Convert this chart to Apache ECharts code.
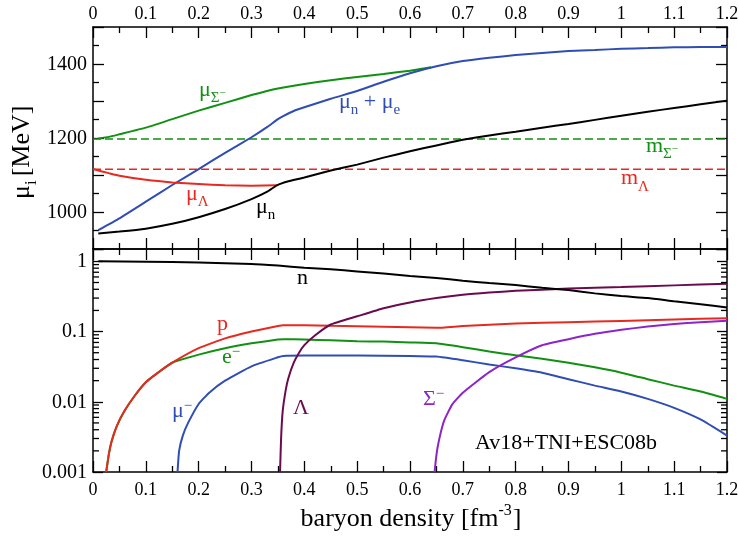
<!DOCTYPE html>
<html><head><meta charset="utf-8">
<script src="https://cdn.jsdelivr.net/npm/echarts@6/dist/echarts.min.js"></script>
<style>html,body{margin:0;padding:0;background:#fff}#c{width:739px;height:536px}</style>
</head><body><div id="c"></div>
<script>
// ---------- tick labels / axis ranges ----------
const xTicks = [0,0.1,0.2,0.3,0.4,0.5,0.6,0.7,0.8,0.9,1,1.1,1.2];
const muTickLabels = [1000,1200,1400];
const yLogTickLabels = [0.001,0.01,0.1,1];
const logMinorTicks = [0.002,0.003,0.004,0.005,0.006,0.007,0.008,0.009,
  0.02,0.03,0.04,0.05,0.06,0.07,0.08,0.09,0.2,0.3,0.4,0.5,0.6,0.7,0.8,0.9];

// ---------- top panel: chemical potentials [MeV] ----------
const mSigma = 1197.4;
const mLambda = 1115.7;

const muSigmaX = [0.01,0.03,0.05,0.1,0.15,0.2,0.25,0.3,0.35,0.4,0.45,0.5,0.55,0.6,0.64];
const muSigmaY = [1199,1203,1210,1228,1251,1274,1295,1316,1334,1346,1356,1365,1373,1382,1391];

const muNEX = [0.01,0.05,0.1,0.15,0.2,0.25,0.3,0.33,0.35,0.36,0.38,0.4,0.45,0.5,0.55,0.6,0.65,0.7,0.75,0.8,0.85,0.9,0.95,1.0,1.05,1.1,1.15,1.2];
const muNEY = [951,983,1028,1073,1116,1160,1202,1230,1251,1259,1273,1283,1306,1327,1352,1375,1394,1408,1417,1424,1430,1435,1438,1441,1443,1445,1446,1446];

const muLambdaX = [0,0.03,0.05,0.1,0.15,0.2,0.25,0.3,0.348];
const muLambdaY = [1116,1105,1098,1087,1080,1076,1072,1071,1072];

const muNX = [0.01,0.05,0.1,0.15,0.2,0.25,0.3,0.33,0.348,0.37,0.4,0.45,0.5,0.55,0.6,0.65,0.7,0.75,0.8,0.85,0.9,0.95,1.0,1.05,1.1,1.15,1.2];
const muNY = [942,947,955,968,986,1008,1035,1055,1072,1083,1093,1112,1128,1147,1164,1180,1195,1207,1217,1228,1238,1249,1260,1271,1281,1291,1301];

// ---------- bottom panel: particle fractions ----------
const nX = [0.01,0.1,0.2,0.3,0.35,0.4,0.45,0.5,0.55,0.6,0.65,0.7,0.75,0.8,0.85,0.9,0.95,1.0,1.05,1.1,1.15,1.2];
const nY = [1.0,0.99,0.96,0.92,0.87,0.81,0.77,0.72,0.67,0.62,0.58,0.53,0.49,0.46,0.42,0.39,0.35,0.32,0.30,0.27,0.245,0.22];

const pX = [0.025,0.03,0.035,0.045,0.06,0.08,0.1,0.12,0.15,0.2,0.25,0.3,0.35,0.36,0.4,0.45,0.5,0.55,0.6,0.65,0.7,0.8,0.9,1.0,1.1,1.2];
const pY = [0.001,0.0018,0.0027,0.0045,0.0075,0.0125,0.019,0.025,0.036,0.058,0.08,0.10,0.12,0.123,0.123,0.121,0.119,0.117,0.115,0.113,0.12,0.13,0.136,0.142,0.149,0.155];

const eX = [0.025,0.03,0.035,0.045,0.06,0.08,0.1,0.12,0.15,0.2,0.25,0.3,0.35,0.36,0.4,0.45,0.5,0.55,0.6,0.65,0.7,0.75,0.8,0.85,0.9,0.95,1.0,1.05,1.1,1.15,1.2];
const eY = [0.001,0.0018,0.0027,0.0045,0.0075,0.0125,0.019,0.025,0.036,0.047,0.058,0.068,0.077,0.078,0.077,0.075,0.073,0.072,0.07,0.068,0.06,0.052,0.046,0.041,0.036,0.031,0.026,0.021,0.017,0.014,0.011];

const muonX = [0.16,0.163,0.17,0.18,0.2,0.22,0.25,0.3,0.35,0.36,0.4,0.5,0.6,0.65,0.7,0.75,0.8,0.85,0.9,0.95,1.0,1.05,1.1,1.15,1.2];
const muonY = [0.001,0.002,0.0033,0.005,0.0093,0.0135,0.02,0.032,0.043,0.045,0.0455,0.0455,0.045,0.044,0.039,0.034,0.030,0.026,0.021,0.017,0.014,0.011,0.0082,0.0056,0.0033];

const lamX = [0.354,0.356,0.359,0.365,0.37,0.38,0.39,0.4,0.42,0.45,0.5,0.55,0.6,0.65,0.7,0.75,0.8,0.9,1.0,1.1,1.2];
const lamY = [0.001,0.003,0.0073,0.015,0.022,0.036,0.05,0.064,0.088,0.126,0.165,0.215,0.26,0.3,0.335,0.36,0.38,0.41,0.43,0.455,0.48];

const sigX = [0.6466,0.649,0.652,0.658,0.665,0.68,0.7,0.75,0.8,0.85,0.9,0.95,1.0,1.05,1.1,1.15,1.2];
const sigY = [0.001,0.0015,0.0022,0.0036,0.0055,0.0092,0.0135,0.0265,0.043,0.064,0.078,0.093,0.106,0.118,0.128,0.136,0.143];

// ---------- colours ----------
const C = {black:'#000000', red:'#e8291f', green:'#119011', blue:'#2f4db3', lam:'#6b0b4d', sig:'#8c24c9'};
const FONT_CSS = '"Liberation Serif", serif';

const zip = (xs, ys) => xs.map((x, i) => [x, ys[i]]);

function line(name, xs, ys, color, xi, yi, extra) {
  return Object.assign({
    type:'line', name, data: zip(xs, ys), xAxisIndex: xi, yAxisIndex: yi,
    showSymbol:false, symbol:'none', smooth:0.15,
    lineStyle:{color, width:2}, itemStyle:{color}, silent:true, animation:false, z:3
  }, extra || {});
}

const lineAx = {show:true, onZero:false, lineStyle:{color:'#000', width:1.5}};
function xAx(grid, pos) {
  return {
    type:'value', gridIndex:grid, position:pos, min:0, max:1.2, interval:0.1,
    axisLine: lineAx,
    axisTick:{show:true, inside:true, length:11, lineStyle:{color:'#000', width:1.3}},
    minorTick:{show:true, splitNumber:2, length:6, lineStyle:{color:'#000', width:1.3}},
    splitLine:{show:false}, minorSplitLine:{show:false},
    axisLabel:{show:false}
  };
}
function yMu(pos) {
  return {
    type:'value', gridIndex:0, position:pos, min:900, max:1500, interval:100,
    axisLine: lineAx,
    axisTick:{show:true, inside:true, length:11, lineStyle:{color:'#000', width:1.3}},
    minorTick:{show:true, splitNumber:2, length:6, lineStyle:{color:'#000', width:1.3}},
    splitLine:{show:false}, minorSplitLine:{show:false},
    axisLabel:{show:false}
  };
}
function yLog(pos) {
  return {
    type:'log', logBase:10, gridIndex:1, position:pos, min:0.001, max:1.5,
    axisLine: lineAx,
    axisTick:{show:true, inside:true, length:10, lineStyle:{color:'#000', width:1.3}},
    minorTick:{show:false},
    splitLine:{show:false}, minorSplitLine:{show:false},
    axisLabel:{show:false}
  };
}

// ---------- tick labels drawn as text through the axes' scales ----------
function txt(x, y, t, size, align, vAlign) {
  return {type:'text', x, y, style:{text:t, font: size + 'px ' + FONT_CSS, fill:'#000',
    align, verticalAlign:vAlign, textAlign:align, textVerticalAlign:vAlign}};
}
function labelSeries(xi, yi, values, place) {
  return {
    type:'custom', xAxisIndex:xi, yAxisIndex:yi, silent:true, clip:false, z:6,
    data: values.map(v => [v]),
    renderItem: (params, api) => place(api.value(0), api)
  };
}
const tickLabelSeries = [
  // top axis of upper panel
  labelSeries(1, 0, xTicks, (v, api) => { const p = api.coord([v, 1500]); return txt(p[0], p[1] - 7 - 0.305*18, String(v), 18, 'center', 'middle'); }),
  // bottom axis of lower panel
  labelSeries(2, 2, xTicks, (v, api) => { const p = api.coord([v, 0.001]); return txt(p[0], p[1] + 24 - 0.305*18, String(v), 18, 'center', 'middle'); }),
  // MeV axis
  labelSeries(0, 0, muTickLabels, (v, api) => { const p = api.coord([0, v]); return txt(p[0] - 6, p[1] + 0.5, String(v), 20, 'right', 'middle'); }),
  // Y_i axis
  labelSeries(2, 2, yLogTickLabels, (v, api) => { const p = api.coord([0, v]); return txt(p[0] - 6, p[1] + 0.5, String(v), 20, 'right', 'middle'); })
];

// ---------- text helpers for annotations ----------
const mctx = document.createElement('canvas').getContext('2d');
function tw(t, s) { mctx.font = s + 'px ' + FONT_CSS; return mctx.measureText(t).width; }
// parts: [text, size, baselineOffset, extraAdvance]
function rich(x, base, parts, color, rotation) {
  let cx = 0; const children = [];
  for (const p of parts) {
    const [t, s, dy] = p;
    children.push({type:'text', x:cx, y:dy - 0.305*s,
      style:{text:t, font: s + 'px ' + FONT_CSS, fill:color, align:'left', verticalAlign:'middle',
             textAlign:'left', textVerticalAlign:'middle'}});
    cx += tw(t, s) + (p[3] || 0);
  }
  return {type:'group', x, y:base, rotation: rotation || 0, children, silent:true, z:10};
}
function richWidth(parts) { return parts.reduce((a, p) => a + tw(p[0], p[1]) + (p[3] || 0), 0); }

const L = 22, S = 15, SS = 11;
const xTitleParts = [['baryon density [fm', 26, 0], ['-3', 16, -11, 1], [']', 26, 0]];
const xTitleW = richWidth(xTitleParts);

const graphics = [
  rich(199, 97, [['μ', L, 0], ['Σ', S, 6], ['−', SS, -1]], C.green),
  rich(339, 109, [['μ', L, 0], ['n', S, 6], [' + ', L, 0], ['μ', L, 0], ['e', S, 6]], C.blue),
  rich(646, 153, [['m', L, 0], ['Σ', S, 6], ['−', SS, -1]], C.green),
  rich(621, 185, [['m', L, 0], ['Λ', S, 7]], C.red),
  rich(186, 201, [['μ', L, 0], ['Λ', S, 6]], C.red),
  rich(256, 214, [['μ', L, 0], ['n', S, 6]], C.black),
  rich(297, 285, [['n', L, 0]], C.black),
  rich(217, 331, [['p', L, 0]], C.red),
  rich(222, 364, [['e', L, 0], ['−', S, -7]], C.green),
  rich(172, 418, [['μ', L, 0], ['−', S, -7]], C.blue),
  rich(293, 415, [['Λ', L, 0]], C.lam),
  rich(423, 406, [['Σ', L, 0], ['−', S, -7]], C.sig),
  rich(475, 450, [['Av18+TNI+ESC08b', L, 0]], C.black),
  rich(411 - xTitleW/2, 527, xTitleParts, C.black),
  rich(30, 199, [['μ', 26, 0], ['i', 17, 7, 4], ['[MeV]', 26, 0]], C.black, Math.PI/2)
];

const chart = echarts.init(document.getElementById('c'), null, {renderer:'canvas'});
chart.setOption({
  animation:false,
  backgroundColor:'#fff',
  textStyle:{fontFamily:FONT_CSS},
  grid:[
    {left:93, top:27, width:634, height:222, containLabel:false},
    {left:93, top:249, width:634, height:223, containLabel:false}
  ],
  xAxis:[xAx(0,'bottom'), xAx(0,'top'), xAx(1,'bottom'), xAx(1,'top')],
  yAxis:[yMu('left'), yMu('right'), yLog('left'), yLog('right')],
  graphic: graphics,
  series:[
    line('mSigma', [0,1.2], [mSigma,mSigma], C.green, 0, 0, {smooth:false, lineStyle:{color:C.green, width:1.5, type:[8,4]}}),
    line('mLambda', [0,1.2], [mLambda,mLambda], C.red, 0, 0, {smooth:false, lineStyle:{color:C.red, width:1.5, type:[8,4]}}),
    line('muSigma', muSigmaX, muSigmaY, C.green, 0, 0),
    line('muNE', muNEX, muNEY, C.blue, 0, 0),
    line('muLambda', muLambdaX, muLambdaY, C.red, 0, 0),
    line('muN', muNX, muNY, C.black, 0, 0),
    line('e', eX, eY, C.green, 2, 2),
    line('p', pX, pY, C.red, 2, 2),
    line('muon', muonX, muonY, C.blue, 2, 2),
    line('Lambda', lamX, lamY, C.lam, 2, 2),
    line('Sigma', sigX, sigY, C.sig, 2, 2),
    line('n', nX, nY, C.black, 2, 2),
    {
      type:'custom', xAxisIndex:2, yAxisIndex:2, silent:true, clip:false, z:5,
      data: logMinorTicks.map(v => [v]),
      renderItem: (params, api) => {
        const v = api.value(0);
        const pl = api.coord([0, v]);
        const pr = api.coord([1.2, v]);
        const st = {stroke:'#000', lineWidth:1.3};
        return {type:'group', children:[
          {type:'line', shape:{x1:pl[0], y1:pl[1], x2:pl[0]+6, y2:pl[1]}, style:st},
          {type:'line', shape:{x1:pr[0], y1:pr[1], x2:pr[0]-6, y2:pr[1]}, style:st}
        ]};
      }
    }
  ].concat(tickLabelSeries)
});
</script></body></html>
